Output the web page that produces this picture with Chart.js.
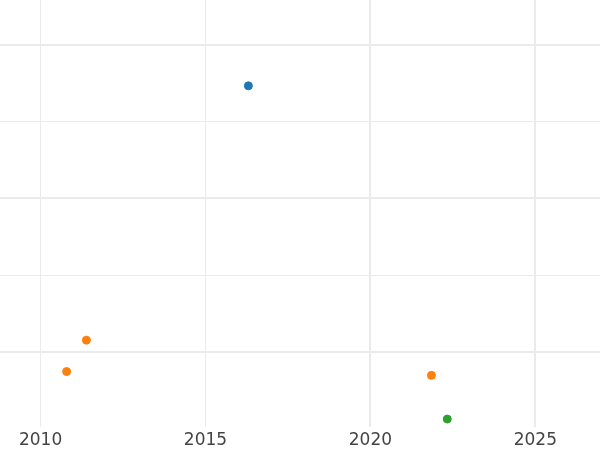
<!DOCTYPE html>
<html><head><meta charset="utf-8">
<script src="https://cdn.jsdelivr.net/npm/chart.js@4/dist/chart.umd.min.js"></script>
<style>html,body{margin:0;padding:0;background:#fff}#w{width:600px;height:450px}</style>
</head><body><div id="w"><canvas id="c"></canvas></div>
<script>
const xTicks = [2010, 2015, 2020, 2025];
const yTicks = [1, 2, 3, 4, 5];
const blueX = [2016.3];
const blueY = [4.47];
const orangeX = [2011.39, 2010.79, 2021.85];
const orangeY = [1.15, 0.74, 0.69];
const greenX = [2022.33];
const greenY = [0.12];
const xRange = [2008.77, 2026.96];
const yRange = [0.02, 5.59];

function pts(xs, ys){ return xs.map((x,i)=>({x:x, y:ys[i]})); }
function ds(xs, ys, color){
  return {data: pts(xs, ys), backgroundColor: color, borderColor: color, pointRadius: 4, pointBorderWidth: 1, pointHoverRadius: 4};
}
new Chart(document.getElementById('c'), {
  type: 'scatter',
  data: {datasets: [ds(blueX, blueY, '#1f77b4'), ds(orangeX, orangeY, '#ff7f0e'), ds(greenX, greenY, '#2ca02c')]},
  options: {
    responsive: true, maintainAspectRatio: false, animation: false,
    layout: {padding: {left: 0, right: 0, top: 0, bottom: -4.7}, autoPadding: false},
    plugins: {legend: {display: false}, tooltip: {enabled: false}},
    scales: {
      x: {
        type: 'linear', min: xRange[0], max: xRange[1],
        afterBuildTicks: s => { s.ticks = xTicks.map(v => ({value: v})); },
        ticks: {color: '#444', font: {family: 'DejaVu Sans', size: 17, lineHeight: 1.1}, padding: 4.65, maxRotation: 0, callback: v => String(v)},
        grid: {color: '#ebebeb', drawTicks: false, lineWidth: c => (c.tick && c.tick.value >= 2020) ? 2 : 1},
        border: {display: false}
      },
      y: {
        type: 'linear', min: yRange[0], max: yRange[1],
        afterBuildTicks: s => { s.ticks = yTicks.map(v => ({value: v})); },
        ticks: {display: false},
        grid: {color: '#ebebeb', drawTicks: false, lineWidth: c => (c.tick && c.tick.value % 2 === 1) ? 2 : 1},
        border: {display: false}
      }
    }
  }
});
</script></body></html>
